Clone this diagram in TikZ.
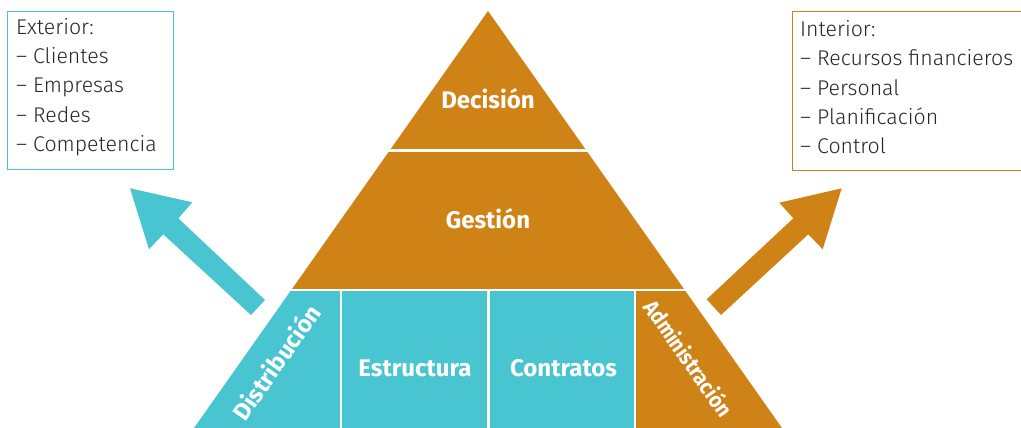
\documentclass[tikz,border=0pt]{standalone}
\usepackage{fontspec}
\setmainfont{Fira Sans}
\newfontfamily\lightfont{Fira Sans Light}
\definecolor{orng}{RGB}{207,131,22}
\definecolor{cyn}{RGB}{73,196,209}
\begin{document}
\begin{tikzpicture}[x=1pt,y=-1pt,
  lbl/.style={text=white, font=\bfseries\fontsize{24}{28}\selectfont, inner sep=0},
  item/.style={anchor=base west, inner sep=0, font=\lightfont\fontsize{21.3}{25}\selectfont, text=black!85},
  gapline/.style={white, line width=2.4pt},
  frame/.style={draw, line width=1pt, anchor=north west, inner sep=0}]
\useasboundingbox (0,0) rectangle (1021,428);
% pyramid
\fill[orng] (488,11) -- (684.5,289.7) -- (291.5,289.7) -- cycle;
\fill[cyn] (291.5,289.7) -- (634.7,289.7) -- (634.7,430) -- (192.6,430) -- cycle;
\fill[orng] (634.7,289.7) -- (684.5,289.7) -- (783.4,430) -- (634.7,430) -- cycle;
\draw[gapline] (370,150.3) -- (610,150.3);
\draw[gapline] (280,289.7) -- (700,289.7);
\draw[gapline] (341,289.7) -- (341,432);
\draw[gapline] (488.3,289.7) -- (488.3,432);
\draw[gapline] (634.7,289.7) -- (634.7,432);
% labels
\node[lbl, anchor=base] (dec) at (488,109) {Decisión};
\node[lbl, anchor=base] (ges) at (488,228) {Gestión};
\node[lbl, anchor=base] (est) at (415,376) {Estructura};
\node[lbl, anchor=base] (con) at (563.5,376) {Contratos};
\node[lbl, rotate=55] (dis) at (276,362) {Distribución};
\node[lbl, rotate=-55, font=\bfseries\fontsize{22}{26}\selectfont] (adm) at (689,358) {\scalebox{0.9}[1]{Administración}};
% arrows
\fill[cyn] (130,188.3) -- (192.3,202.3) -- (178.3,218.3) -- (265,300) -- (251,315) -- (163.3,234.3) -- (149,249.3) -- cycle;
\fill[orng] (841.7,188.3) -- (779.3,202.7) -- (793.3,218.3) -- (706.7,299.3) -- (721,315) -- (808.3,234.3) -- (822.7,249.3) -- cycle;
% boxes
\node[frame, draw=cyn, minimum width=166, minimum height=158] (ext) at (7,11) {};
\node[frame, draw=orng, minimum width=236, minimum height=158] (int) at (791.7,11.5) {};
\node[item] (e1) at (16,34.3) {Exterior:};
\node[item] (e2) at (16,63.6) {– Clientes};
\node[item] (e3) at (16,92.9) {– Empresas};
\node[item] (e4) at (16,122.2) {– Redes};
\node[item] (e5) at (16,151.5) {– Competencia};
\node[item] (i1) at (800,36.5) {Interior:};
\node[item] (i2) at (800,65.8) {– Recursos financieros};
\node[item] (i3) at (800,95.1) {– Personal};
\node[item] (i4) at (800,124.4) {– Planificación};
\node[item] (i5) at (800,153.7) {– Control};
\end{tikzpicture}
\end{document}
